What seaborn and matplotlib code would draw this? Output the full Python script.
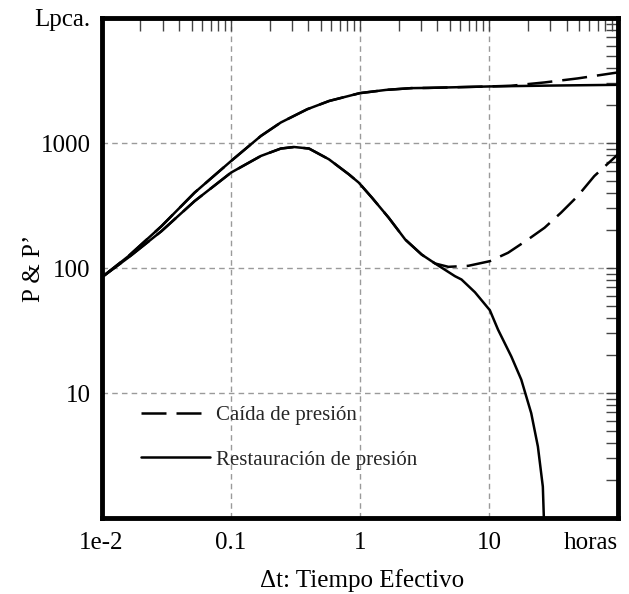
import numpy as np
import pandas as pd
import seaborn as sns
import matplotlib.pyplot as plt
from matplotlib.ticker import LogLocator, NullFormatter

# ---- data ----
# P (upper curves)
t_p_rest = [0.01, 0.0161, 0.0291, 0.0526, 0.1008, 0.1716, 0.2447, 0.3925, 0.58,
            1.0, 1.6, 2.51, 3.4, 10.17, 30, 100]
p_rest = [84, 124, 216, 401, 718, 1139, 1459, 1864, 2170,
          2505, 2660, 2748, 2760, 2835, 2880, 2920]

t_p_draw = [0.01, 0.0161, 0.0291, 0.0526, 0.1008, 0.1716, 0.2447, 0.3925, 0.58,
            1.0, 1.6, 2.51, 3.4, 10.17, 14.84, 27.0, 48.7, 100]
p_draw = [84, 124, 216, 401, 718, 1139, 1459, 1864, 2170,
          2505, 2660, 2748, 2760, 2835, 2870, 3052, 3286, 3670]

# P' (lower curves)
t_d_rest = [0.01, 0.0161, 0.0291, 0.0526, 0.1008, 0.1716, 0.2447, 0.310, 0.4046,
            0.5768, 0.8226, 0.9824, 1.244, 1.673, 2.25, 3.02, 3.832, 5.465, 6.14,
            7.8, 10.17, 11.78, 14.92, 17.82, 21.28, 23.97, 26.18, 26.66]
d_rest = [84, 121, 197, 343, 580, 788, 903, 929, 903,
          741, 562, 482, 365, 253, 169, 128, 108.7, 86, 80.9,
          64, 46, 32.1, 19.6, 12.8, 6.9, 3.73, 1.78, 1.0]

t_d_draw = [0.01, 0.0161, 0.0291, 0.0526, 0.1008, 0.1716, 0.2447, 0.310, 0.4046,
            0.5768, 0.8226, 0.9824, 1.244, 1.673, 2.25, 3.02, 3.832, 4.853, 6.92,
            10.17, 14.08, 20.07, 27.0, 36.2, 48.7, 65.55, 100]
d_draw = [84, 121, 197, 343, 580, 788, 903, 929, 903,
          741, 562, 482, 365, 253, 169, 128, 108.7, 102.2, 104.1,
          113.4, 132.4, 169, 210, 277, 376, 544, 812]

series_names = ["Caída de presión", "Restauración de presión"]
x_ticks = [0.01, 0.1, 1, 10, 100]
x_ticklabels = ["1e-2", "0.1", "1", "10", "horas"]
y_ticks = [1, 10, 100, 1000, 10000]
y_ticklabels = ["", "10", "100", "1000", "Lpca."]

frames = []
for t, v, prueba, curva in [
    (t_p_draw, p_draw, series_names[0], "P"),
    (t_d_draw, d_draw, series_names[0], "P'"),
    (t_p_rest, p_rest, series_names[1], "P"),
    (t_d_rest, d_rest, series_names[1], "P'"),
]:
    frames.append(pd.DataFrame({"t": t, "valor": v, "prueba": prueba, "curva": curva}))
df = pd.concat(frames, ignore_index=True)

sns.set_theme(style="white")
plt.rcParams['font.family'] = ['Liberation Serif', 'DejaVu Serif']

fig = plt.figure(figsize=(6.29, 5.94), dpi=100)
ax = fig.add_axes([0.1614, 0.1279, 0.8211, 0.8418])

sns.lineplot(data=df, x="t", y="valor", style="prueba", units="curva",
             estimator=None, color="black", linewidth=1.8,
             style_order=series_names,
             dashes={series_names[0]: (10, 4), series_names[1]: ""},
             ax=ax)

ax.set_xscale("log")
ax.set_yscale("log")
ax.set_xlim(0.01, 100)
ax.set_ylim(1, 10000)

ax.set_xticks(x_ticks)
ax.set_xticklabels(x_ticklabels)
ax.set_yticks(y_ticks)
ax.set_yticklabels(y_ticklabels)
ax.xaxis.set_minor_locator(LogLocator(base=10, subs=np.arange(2, 10)))
ax.yaxis.set_minor_locator(LogLocator(base=10, subs=np.arange(2, 10)))
ax.xaxis.set_minor_formatter(NullFormatter())
ax.yaxis.set_minor_formatter(NullFormatter())

ax.tick_params(which="both", direction="in", top=True, right=True,
               length=9, width=1, color="#444444")
ax.tick_params(which="major", labelsize=18, labelcolor="black")
ax.tick_params(axis="x", which="major", pad=10)
ax.tick_params(axis="y", which="major", pad=8)
for lab in ax.get_xticklabels():
    if lab.get_text() == "horas":
        lab.set_ha("right")

ax.grid(True, which="major", color="#9a9a9a", linestyle=(0, (4, 3)), linewidth=1)

for s in ax.spines.values():
    s.set_linewidth(3.5)
    s.set_color("black")
    s.set_visible(True)

ax.set_xlabel("\u0394t: Tiempo Efectivo", fontsize=18, color="black")
ax.set_ylabel("P & P\u2019", fontsize=18, color="black")
ax.xaxis.set_label_coords(0.504, -0.102)
ax.yaxis.set_label_coords(-0.109, 0.5)

handles, labels = ax.get_legend_handles_labels()
ax.legend(handles, labels, loc="upper left", bbox_to_anchor=(0.061, 0.242),
          borderaxespad=0, frameon=False, fontsize=15, handlelength=3.3,
          handletextpad=0.3, labelspacing=1.21)

fig.savefig("out.png", dpi=100)
